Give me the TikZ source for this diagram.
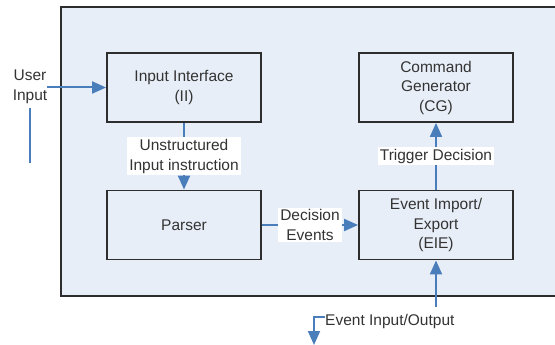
\documentclass[tikz,border=0pt]{standalone}
\usepackage{fontspec}
\setmainfont{Liberation Sans}
\usetikzlibrary{arrows.meta}
\definecolor{panel}{RGB}{232,238,248}
\definecolor{flow}{RGB}{74,126,187}
\definecolor{edge}{RGB}{45,45,45}
\begin{document}
\begin{tikzpicture}[x=1pt,y=-1pt,
 font=\fontsize{15.5}{19.5}\selectfont,
 textcol/.style={text=black!80},
 block/.style={draw=edge, line width=1.8pt, minimum width=154pt, minimum height=69pt, align=center, inner sep=0pt, textcol},
 frame/.style={draw=edge, fill=panel, line width=2pt, minimum width=497pt, minimum height=289pt, inner sep=0pt},
 flowline/.style={draw=flow, line width=2pt},
 flowarrow/.style={flowline, -{Triangle[length=14pt,width=12pt]}},
 tag/.style={fill=white, align=center, inner sep=2pt, textcol},
 plain/.style={align=center, inner sep=0pt, textcol}]
\useasboundingbox (0,0) rectangle (555,345);
\node[frame] (outer) at (309.5,151.5) {};
\node[block] (ii) at (184,87.5) {Input Interface\\(II)};
\node[block] (parser) at (184,225) {Parser};
\node[block] (cg) at (436,87.5) {Command\\Generator\\(CG)};
\node[block] (eie) at (436,225) {Event Import/\\Export\\(EIE)};
\node[plain] (user) at (30,87) {User\\Input};
\coordinate (ua) at (30,108);
\coordinate (ub) at (30,163);
\coordinate (ein) at (436,307);
\coordinate (eout) at (314,345);
\node[plain, anchor=west] (eio) at (325,321) {Event Input/Output};
\draw[flowarrow] (ii.west -| user.east) -- (ii.west);
\draw[flowline] (ua) -- (ub);
\draw[flowarrow] (ii) -- (parser) node[tag, midway] {Unstructured\\Input instruction};
\draw[flowarrow] (parser) -- (eie) node[tag, midway] {Decision\\Events};
\draw[flowarrow] (eie) -- (cg) node[tag, midway] {Trigger Decision};
\draw[flowarrow] (ein) -- (eie);
\draw[flowarrow] ([yshift=4pt]eio.west) -| (eout);
\end{tikzpicture}
\end{document}
